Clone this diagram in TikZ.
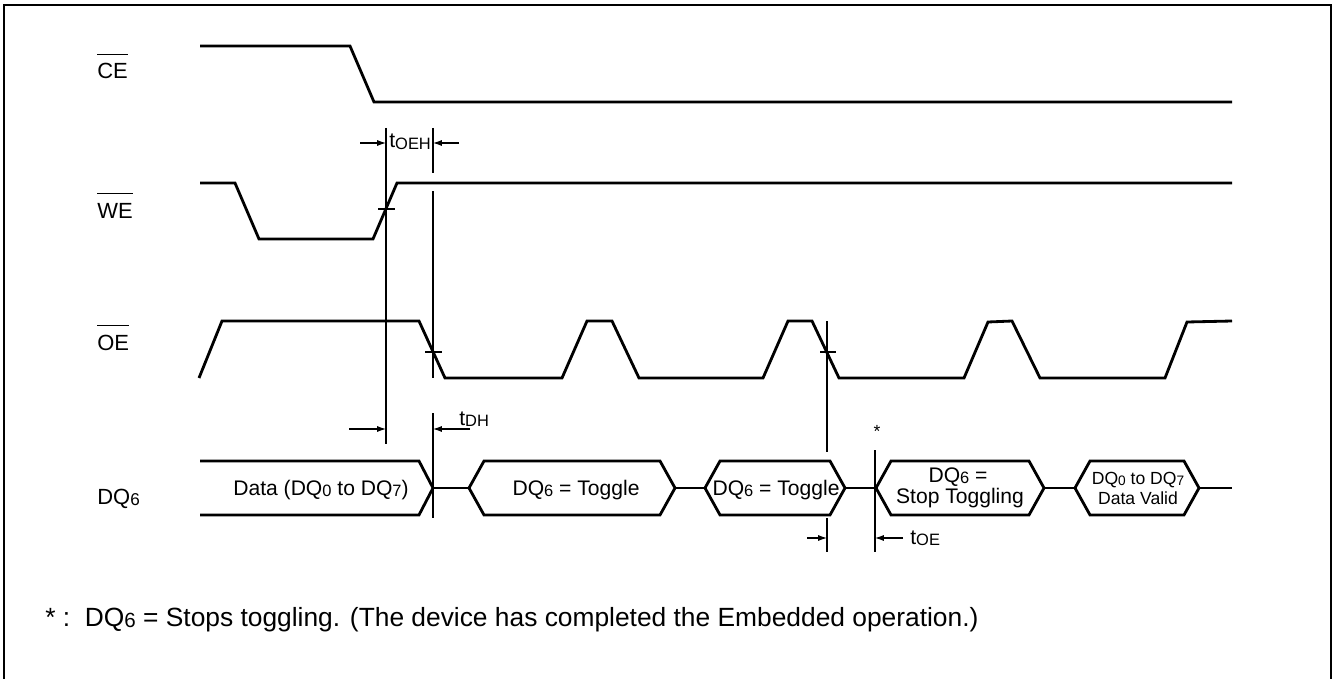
\documentclass[tikz,border=0pt]{standalone}
\usepackage{fontspec}
\usepackage{amsmath}
\setmainfont{Liberation Sans}
\usetikzlibrary{arrows.meta}

\makeatletter
\newdimen\subsize
\newcommand\subtxt[1]{\subsize=\f@size pt\subsize=0.78\subsize\raisebox{-0.12ex}{\fontsize{\strip@pt\subsize}{\strip@pt\subsize}\selectfont #1}}
\makeatother
\newcommand\barsig[1]{\setbox0=\hbox{#1}\rlap{\raisebox{1.1em}{\rule{\wd0}{0.6pt}}}\box0}

\begin{document}
\begin{tikzpicture}[x=0.02cm,y=-0.02cm]
        % Define styles
        \tikzset{
            wave/.style={line width=1.6pt, line join=miter},
            guide/.style={line width=0.6pt},
            arrow/.style={-{Latex[length=5pt,width=3.4pt]}, line width=0.6pt},
            signal/.style={anchor=base west, inner sep=0pt, font=\fontsize{12.5}{15}\selectfont},
            bustext/.style={anchor=base, inner sep=0pt, font=\fontsize{12}{14}\selectfont},
            smalltext/.style={anchor=base, inner sep=0pt, font=\fontsize{10}{12}\selectfont},
            timing/.style={anchor=base west, inner sep=0pt, font=\fontsize{12}{14}\selectfont}
        }
        \useasboundingbox (0,0) rectangle (1335,679);

        % Frame
        \draw[line width=1.4pt] (4,679) -- (4,5) -- (1331,5) -- (1331,679);

        % Signal names
        \node[signal] (ce_label) at (97,79) {\barsig{CE}};
        \node[signal] (we_label) at (97,218) {\barsig{WE}};
        \node[signal] (oe_label) at (97,350) {\barsig{OE}};
        \node[signal] (dq_label) at (97,504) {DQ\subtxt{6}};

        % Waveforms
        \draw[wave] (200,46) -- (350,46) -- (374,102) -- (1232,102);
        \draw[wave] (200,183) -- (235,183) -- (259,239) -- (373,239) -- (397,183) -- (1232,183);
        \draw[wave] (199,378) -- (222,321) -- (419,321) -- (445,378) -- (562,378) -- (587,321) -- (612,321)
            -- (639,378) -- (763,378) -- (788,321) -- (812,321) -- (839,378) -- (964,378) -- (988,322)
            -- (1012,321) -- (1040,378) -- (1165,378) -- (1187,322) -- (1232,321);

        % Data bus
        \draw[wave] (200,461) -- (419,461) -- (433,488) -- (419,515) -- (200,515);
        \foreach \l/\r in {469/675, 705/845, 876/1044, 1075/1199}
            \draw[wave] (\l,488) -- (\l+15,461) -- (\r-15,461) -- (\r,488) -- (\r-15,515) -- (\l+15,515) -- cycle;
        \draw[wave] (433,488) -- (469,488) (675,488) -- (705,488) (845,488) -- (876,488)
            (1044,488) -- (1075,488) (1199,488) -- (1232,488);

        \node[bustext] (data_text) at (321,495) {Data (DQ\subtxt{0} to DQ\subtxt{7})};
        \node[bustext] (toggle_text_1) at (576,495) {DQ\subtxt{6} = Toggle};
        \node[bustext] (toggle_text_2) at (776,495) {DQ\subtxt{6} = Toggle};
        \node[bustext] (stop_text_1) at (958,482) {DQ\subtxt{6} =};
        \node[bustext] (stop_text_2) at (960,503) {Stop Toggling};
        \node[smalltext] (valid_text_1) at (1138,484) {DQ\subtxt{0} to DQ\subtxt{7}};
        \node[smalltext] (valid_text_2) at (1138,504) {Data Valid};

        % Timing guides
        \draw[guide] (386,128) -- (386,444);
        \draw[guide] (433,128) -- (433,173) (433,191) -- (433,378) (433,413) -- (433,518);
        \draw[guide] (827,321) -- (827,452) (827,518) -- (827,552);
        \draw[guide] (875,450) -- (875,552);
        \draw[guide] (378,209) -- (395,209) (425,352) -- (442,352) (820,352) -- (836,352);

        % Arrows
        \coordinate (oeh_from_left) at (360,143);
        \coordinate (oeh_to_left) at (386,143);
        \coordinate (oeh_from_right) at (459,143);
        \coordinate (oeh_to_right) at (433,143);
        \coordinate (dh_from_left) at (349,429);
        \coordinate (dh_to_left) at (386,429);
        \coordinate (dh_from_right) at (470,429);
        \coordinate (dh_to_right) at (433,429);
        \coordinate (oe_from_left) at (807,538);
        \coordinate (oe_to_left) at (827,538);
        \coordinate (oe_from_right) at (903,538);
        \coordinate (oe_to_right) at (875,538);
        \draw[arrow] (oeh_from_left) -- (oeh_to_left);
        \draw[arrow] (oeh_from_right) -- (oeh_to_right);
        \draw[arrow] (dh_from_left) -- (dh_to_left);
        \draw[arrow] (dh_from_right) -- (dh_to_right);
        \draw[arrow] (oe_from_left) -- (oe_to_left);
        \draw[arrow] (oe_from_right) -- (oe_to_right);

        \node[timing] (toeh_label) at (389,148) {t\subtxt{OEH}};
        \node[timing] (tdh_label) at (459,425) {t\subtxt{DH}};
        \node[timing] (toe_label) at (910,544) {t\subtxt{OE}};
        \node[anchor=base, inner sep=0pt, font=\fontsize{10}{12}\selectfont] (star_mark) at (877,437) {*};

        % Footnote
        \node[timing, font=\fontsize{15}{18}\selectfont] (note_text) at (45,626) {*\ :\ \ DQ\subtxt{6} = Stops toggling. (The device has completed the Embedded operation.)};
\end{tikzpicture}
\end{document}
